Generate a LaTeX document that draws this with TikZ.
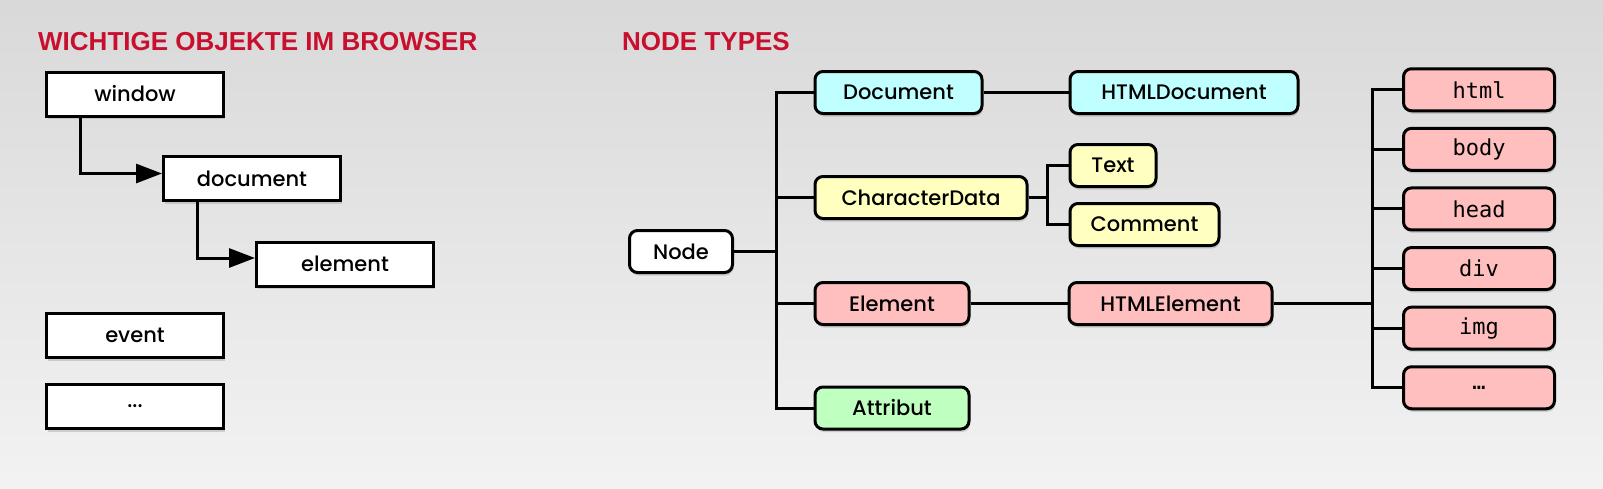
\documentclass[tikz,border=0pt]{standalone}
\usepackage{fontspec}
\setmainfont{Poppins}[UprightFont=* Medium]
\setmonofont{DejaVu Sans Mono}
\newfontfamily\headfont{Liberation Sans}
\usepackage{tikz}
\usetikzlibrary{positioning,arrows.meta,shadows,matrix}
\definecolor{headred}{RGB}{200,16,46}
\definecolor{doccyan}{RGB}{191,255,255}
\definecolor{chryellow}{RGB}{255,255,191}
\definecolor{elempink}{RGB}{255,191,191}
\definecolor{attrgreen}{RGB}{191,255,191}
\tikzstyle{heading} = [anchor=west, inner sep=0, text=headred,
                       font=\headfont\bfseries\fontsize{26}{30}\selectfont]
\tikzstyle{object}  = [rectangle, draw=black, line width=3pt, fill=white, minimum width=177pt, minimum height=44pt, inner sep=0, font=\fontsize{21}{24}\selectfont, drop shadow={shadow xshift=1pt, shadow yshift=-3pt, opacity=0.3}]
\tikzstyle{type}    = [rectangle, rounded corners=8pt, draw=black, line width=3pt, minimum height=42pt, inner sep=0, font=\fontsize{21}{24}\selectfont, drop shadow={shadow xshift=1pt, shadow yshift=-3pt, opacity=0.3}]
\tikzstyle{tag}     = [type, fill=elempink, minimum width=151pt, font=\ttfamily\fontsize{22}{24}\selectfont]
\tikzstyle{arrow}   = [line width=3pt,-{Triangle[length=26pt,width=19pt]}]
\tikzstyle{link}    = [line width=3pt]

\begin{document}
\begin{tikzpicture}[x=1pt, y=-1pt,
			tags/.style={matrix of nodes, nodes={tag}, row sep=14.6pt}]
		\useasboundingbox (0,0) rectangle (1603,488);
		\fill[top color=black!15, bottom color=black!5] (0,0) rectangle (1603,488);

		% objects in the browser
		\node[heading] (objtitle) at (38,42) {WICHTIGE OBJEKTE IM BROWSER};
		\node[object] (window) at (135,94) {window};
		\node[object] (document) at (252,178.5) {document};
		\node[object] (element) at (345,264) {element};
		\node[object] (event) at (135,335.5) {event};
		\node[object] (more) at (135,406.5) {...};
		\draw[arrow] ([xshift=35pt]window.south west) |- ([yshift=5pt]document.west);
		\draw[arrow] ([xshift=35pt]document.south west) |- ([yshift=6pt]element.west);

		% node types
		\node[heading] (typetitle) at (622,42) {NODE TYPES};
		\node[type, fill=white, minimum width=103pt] (node) at (681,251.5) {Node};
		\node[type, fill=doccyan, minimum width=167pt, anchor=west] (doc) at (813.5,92.5) {Document};
		\node[type, fill=chryellow, minimum width=212pt, anchor=west] (chr) at (813.5,197.5) {CharacterData};
		\node[type, fill=elempink, minimum width=154pt, anchor=west] (elem) at (813.5,303.5) {Element};
		\node[type, fill=attrgreen, minimum width=154pt, anchor=west] (attr) at (813.5,408) {Attribut};
		\node[type, fill=doccyan, minimum width=228pt, right=85pt of doc] (htmldoc) {HTMLDocument};
		\node[type, fill=chryellow, minimum width=86pt, anchor=west] (text) at (1068.5,165.5) {Text};
		\node[type, fill=chryellow, minimum width=149pt, anchor=west] (comment) at (1068.5,224.5) {Comment};
		\node[type, fill=elempink, minimum width=203pt, right=97pt of elem] (htmlelem) {HTMLElement};
		\matrix[tags] (tags) at (1479,238.75) {
			html \\
			body \\
			head \\
			div  \\
			img  \\
			…    \\
		};

		\coordinate (trunk) at (776,0);
		\coordinate (split) at (1047,0);
		\coordinate (tagtrunk) at (1372,0);
		\draw[link] (node.east) -- (node.east -| trunk);
		\draw[link] (doc.west) -| (trunk |- attr) -- (attr.west);
		\draw[link] (chr.west) -- (chr.west -| trunk);
		\draw[link] (elem.west) -- (elem.west -| trunk);
		\draw[link] (doc.east) -- (htmldoc.west);
		\draw[link] (chr.east) -- (chr.east -| split);
		\draw[link] (text.west) -| (split |- comment) -- (comment.west);
		\draw[link] (elem.east) -- (htmlelem.west);
		\draw[link] (htmlelem.east) -- (htmlelem.east -| tagtrunk);
		\draw[link] (tags-1-1.west) -| (tagtrunk |- tags-6-1) -- (tags-6-1.west);
		\foreach \row in {2,...,5}
			\draw[link] (tags-\row-1.west) -- (tags-\row-1.west -| tagtrunk);
	\end{tikzpicture}
\end{document}
